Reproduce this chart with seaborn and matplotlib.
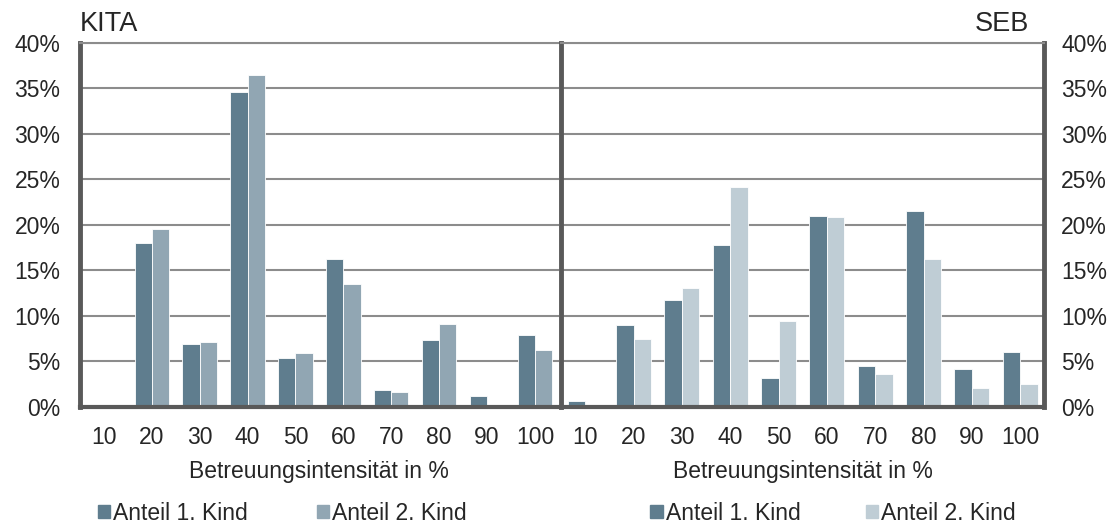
import numpy as np
import pandas as pd
import matplotlib
matplotlib.use('Agg')
import matplotlib.pyplot as plt
import matplotlib.ticker as mtick
from matplotlib.patches import Patch
import seaborn as sns

# --- Daten ---
kategorien = ['10', '20', '30', '40', '50', '60', '70', '80', '90', '100']
kita_kind1 = [0.0, 18.0, 6.9, 34.6, 5.4, 16.3, 1.9, 7.3, 1.2, 7.9]
kita_kind2 = [0.0, 19.5, 7.1, 36.5, 5.9, 13.5, 1.6, 9.1, 0.0, 6.2]
seb_kind1 = [0.7, 9.0, 11.7, 17.8, 3.2, 21.0, 4.5, 21.5, 4.2, 6.0]
seb_kind2 = [0.0, 7.5, 13.1, 24.2, 9.4, 20.9, 3.6, 16.2, 2.1, 2.5]
serien = ['Anteil 1. Kind', 'Anteil 2. Kind']

farbe_dunkel = '#5f7d8e'
farbe_kita2 = '#91a6b3'
farbe_seb2 = '#bfcdd5'
spine_farbe = '#595959'
grid_farbe = '#8c8c8c'
fs = 16.5


def long_df(k1, k2):
    return pd.DataFrame({
        'kat': kategorien * 2,
        'wert': k1 + k2,
        'serie': [serien[0]] * len(kategorien) + [serien[1]] * len(kategorien),
    })


sns.set_theme(style='white')
plt.rcParams['font.family'] = ['Liberation Sans', 'DejaVu Sans']

fig = plt.figure(figsize=(11.11, 5.23), dpi=100)
ax1 = fig.add_axes([0.072, 0.222, 0.431, 0.696])
ax2 = fig.add_axes([0.505, 0.222, 0.435, 0.696])

# (Achse, Daten, Farbe 2. Kind, Legendenposition x, Spaltenabstand)
panels = [
    (ax1, long_df(kita_kind1, kita_kind2), farbe_kita2, 0.422, 3.0),
    (ax2, long_df(seb_kind1, seb_kind2), farbe_seb2, 0.563, 2.85),
]

for ax, df, farbe2, leg_x, colsp in panels:
    sns.barplot(data=df, x='kat', y='wert', hue='serie', order=kategorien,
                hue_order=serien, palette=[farbe_dunkel, farbe2], width=0.72,
                saturation=1, edgecolor='white', linewidth=0.6, legend=False,
                ax=ax, zorder=2)
    ax.set_ylim(0, 40)
    ax.set_xlim(-0.5, 9.5)
    ax.yaxis.set_major_locator(mtick.MultipleLocator(5))
    ax.yaxis.set_major_formatter(mtick.FuncFormatter(lambda v, p: f'{v:.0f}%'))
    ax.grid(axis='y', color=grid_farbe, linewidth=1.5, zorder=0)
    ax.set_axisbelow(True)
    ax.tick_params(axis='x', length=0, pad=14, labelsize=fs)
    ax.tick_params(axis='y', length=0, labelsize=fs)
    ax.set_xlabel('Betreuungsintensität in %', fontsize=fs, labelpad=8)
    ax.set_ylabel('')
    ax.spines['top'].set_color(grid_farbe)
    ax.spines['top'].set_linewidth(1.5)
    ax.spines['bottom'].set_color(spine_farbe)
    ax.spines['bottom'].set_linewidth(3)
    ax.spines['bottom'].set_zorder(3)

    ax.legend(handles=[Patch(color=farbe_dunkel, label=serien[0]),
                       Patch(color=farbe2, label=serien[1])],
              loc='center', bbox_to_anchor=(leg_x, -0.292), ncol=2,
              frameon=False, fontsize=fs, handlelength=0.55, handleheight=0.55,
              handletextpad=0.12, columnspacing=colsp, borderpad=0)

# linkes Panel
ax1.spines['left'].set_color(spine_farbe)
ax1.spines['left'].set_linewidth(3.5)
ax1.spines['right'].set_visible(False)
ax1.tick_params(axis='y', pad=14)
ax1.text(0.0, 1.015, 'KITA', transform=ax1.transAxes, ha='left', va='bottom', fontsize=19.5)

# rechtes Panel
ax2.spines['left'].set_color(spine_farbe)
ax2.spines['left'].set_linewidth(3.5)
ax2.spines['right'].set_color(spine_farbe)
ax2.spines['right'].set_linewidth(3.5)
ax2.yaxis.tick_right()
ax2.tick_params(axis='y', pad=12)
ax2.text(0.968, 1.015, 'SEB', transform=ax2.transAxes, ha='right', va='bottom', fontsize=19.5)

fig.savefig('out.png', dpi=100)
